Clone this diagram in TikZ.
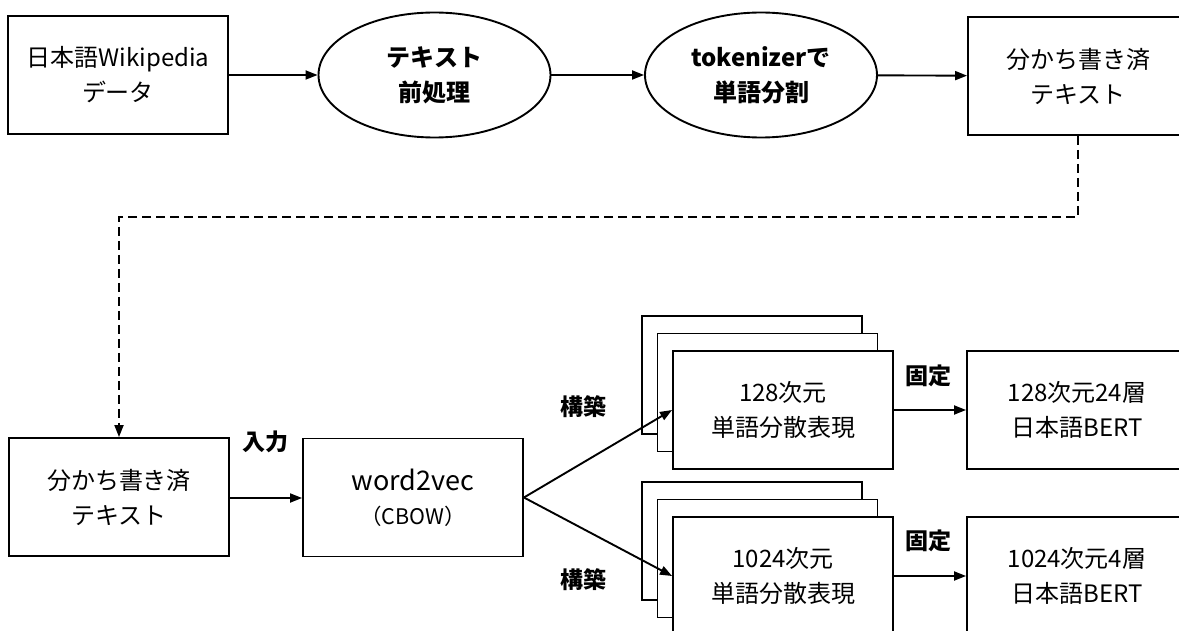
\documentclass[tikz,border=0pt]{standalone}
\usepackage{fontspec}
\setmainfont{Noto Sans CJK JP}
\usetikzlibrary{shapes.geometric,arrows.meta}
\tikzset{
  txt/.style={font=\fontsize{24}{35}\selectfont, align=center, inner sep=0pt},
  box/.style={txt, draw, line width=1.9pt, fill=white, minimum width=220pt, minimum height=118pt},
  proc/.style={txt, font=\fontsize{24}{35}\selectfont\bfseries, draw, line width=1.9pt, ellipse, minimum width=232pt, minimum height=125pt},
  lbl/.style={font=\fontsize{23}{28}\selectfont\bfseries, inner sep=0pt},
  flow/.style={line width=1.9pt, -{Triangle[length=12pt,width=9pt]}},
  link/.style={flow, dash pattern=on 9pt off 5pt}
}
\begin{document}
\begin{tikzpicture}[x=1pt,y=-1pt]
\useasboundingbox (0,0) rectangle (1179,631);
\clip (0,0) rectangle (1179,631);

% preprocessing pipeline
\node[box] (wiki) at (118,75) {日本語Wikipedia\\データ};
\node[proc] (prep) at (434.5,75) {テキスト\\前処理};
\node[proc] (tok) at (761,75) {tokenizerで\\単語分割};
\node[box] (seg1) at (1078,76) {分かち書き済\\テキスト};

\draw[flow] (wiki) -- (prep);
\draw[flow] (prep) -- (tok);
\draw[flow] (tok) -- (seg1);

% training stage
\node[box] (seg2) at (119,497) {分かち書き済\\テキスト};
\node[box] (w2v) at (413,497.5) {{\fontsize{27}{30}\selectfont word2vec}\\[-1pt]{\fontsize{21.5}{24}\selectfont （CBOW）}};

\coordinate (turnA) at (1078,217);
\coordinate (turnB) at (119,217);
\draw[link] (seg1.south) -- (turnA) -- (turnB) -- (seg2.north);

% stacked embedding sets
\node[box] (e1c) at (752,375) {};
\node[box] (e1b) at (767.5,392.5) {};
\node[box] (emb1) at (783,410) {128次元\\単語分散表現};
\node[box] (e2c) at (752,541) {};
\node[box] (e2b) at (767.5,558.5) {};
\node[box] (emb2) at (783,576) {1024次元\\単語分散表現};

\node[box] (bert1) at (1077,410) {128次元24層\\日本語BERT};
\node[box] (bert2) at (1077,576) {1024次元4層\\日本語BERT};

\draw[flow] (seg2.east |- 0,498) -- (w2v.west |- 0,498);
\draw[flow] (w2v.east) -- (emb1.west);
\draw[flow] (w2v.east) -- (emb2.west);
\draw[flow] (emb1) -- (bert1);
\draw[flow] (emb2) -- (bert2);

% edge labels
\node[lbl] (inp) at (265,442) {入力};
\node[lbl] (mk1) at (583,407) {構築};
\node[lbl] (mk2) at (583,580) {構築};
\node[lbl] (fx1) at (928,376) {固定};
\node[lbl] (fx2) at (928,541) {固定};
\end{tikzpicture}
\end{document}
